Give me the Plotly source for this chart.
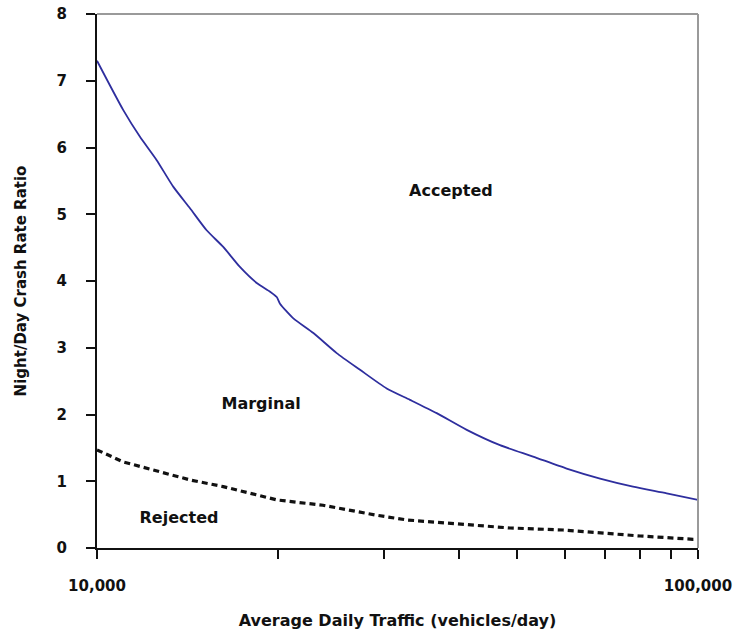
import plotly.graph_objects as go

# Accepted/Marginal boundary (blue curve)
blue_adt = [10000, 11060, 11790, 12570, 13400, 14280, 15220, 16220, 17290, 18440,
            19410, 19910, 20160, 21220, 22910, 25050, 27390, 30340, 33170, 36750,
            41230, 46830, 53150, 60460, 68710, 77950, 88700, 100000]
blue_ratio = [7.30, 6.56, 6.16, 5.81, 5.41, 5.09, 4.76, 4.51, 4.21, 3.97,
              3.84, 3.76, 3.66, 3.44, 3.22, 2.92, 2.67, 2.39, 2.22, 2.02,
              1.77, 1.54, 1.37, 1.19, 1.04, 0.92, 0.82, 0.72]

# Marginal/Rejected boundary (dashed black)
dash_adt = [10000, 11050, 11930, 14280, 16220, 19930, 23770, 29240, 32800,
            39720, 48650, 59630, 73330, 80120, 98100, 100000]
dash_ratio = [1.47, 1.29, 1.21, 1.02, 0.92, 0.72, 0.64, 0.49, 0.42,
              0.36, 0.30, 0.27, 0.20, 0.18, 0.13, 0.13]

region_labels = ["Accepted", "Marginal", "Rejected"]
region_x = [38800, 18750, 13690]
region_y = [5.33, 2.14, 0.43]

x_tickvals = [10000, 20000, 30000, 40000, 50000, 60000, 70000, 80000, 90000, 100000]
x_ticktext = ["10,000", "", "", "", "", "", "", "", "", "100,000"]
y_tickvals = [0, 1, 2, 3, 4, 5, 6, 7, 8]

FONT = "DejaVu Sans"

fig = go.Figure()
fig.add_trace(go.Scatter(x=blue_adt, y=blue_ratio, mode="lines", line_shape="spline",
                         line=dict(color="#2E2E9E", width=1.8, smoothing=0.6),
                         showlegend=False))
fig.add_trace(go.Scatter(x=dash_adt, y=dash_ratio, mode="lines",
                         line=dict(color="#111111", width=3.2, dash="6px,4px"),
                         showlegend=False))
fig.add_trace(go.Scatter(x=region_x, y=region_y, mode="text", text=region_labels,
                         textfont=dict(family=FONT, size=16, color="#111111", weight="bold"),
                         showlegend=False))

fig.update_layout(
    width=735, height=630,
    margin=dict(l=97, r=37, t=14, b=82),
    paper_bgcolor="white", plot_bgcolor="white",
    font=dict(family=FONT, color="#111111"),
    xaxis=dict(type="log", range=[4, 5], tickvals=x_tickvals, ticktext=x_ticktext,
               automargin=False,
               ticks="outside", ticklen=9, tickwidth=2, tickcolor="#111111",
               showline=True, linecolor="#111111", linewidth=2,
               showgrid=False, zeroline=False, ticklabelstandoff=14,
               tickfont=dict(family=FONT, size=15, weight="bold"),
               title=dict(text="Average Daily Traffic (vehicles/day)", standoff=26,
                          font=dict(family=FONT, size=16, weight="bold"))),
    yaxis=dict(range=[0, 8], tickvals=y_tickvals, automargin=False,
               ticks="outside", ticklen=9, tickwidth=2, tickcolor="#111111",
               showline=True, linecolor="#111111", linewidth=2,
               showgrid=False, zeroline=False, ticklabelstandoff=16,
               tickfont=dict(family=FONT, size=15, weight="bold"),
               title=dict(text="Night/Day Crash Rate Ratio", standoff=26,
                          font=dict(family=FONT, size=15, weight="bold"))),
    shapes=[
        dict(type="line", xref="paper", yref="paper", x0=0, x1=1, y0=1, y1=1,
             line=dict(color="#9a9a9a", width=2)),
        dict(type="line", xref="paper", yref="paper", x0=1, x1=1, y0=0, y1=1,
             line=dict(color="#9a9a9a", width=2)),
    ],
)

fig.write_html("out.html", config={"displayModeBar": False},
               post_script="document.body.style.margin='0';document.body.style.padding='0';")
